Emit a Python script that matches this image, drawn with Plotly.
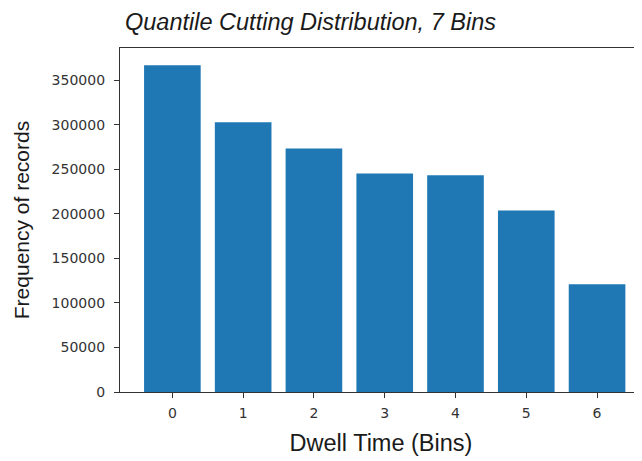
import plotly.graph_objects as go

bins = [0, 1, 2, 3, 4, 5, 6]
tick_labels = ["0", "1", "2", "3", "4", "5", "6"]
frequency = [367000, 303000, 273500, 245500, 243500, 204000, 121000]
y_ticks = [0, 50000, 100000, 150000, 200000, 250000, 300000, 350000]

title_text = "<i>Quantile Cutting Distribution, 7 Bins</i>"
x_title = "Dwell Time (Bins)"
y_title = "Frequency of records"

# page body has an 8px margin, so the figure is 8px smaller than the window
W, H = 634, 453

fig = go.Figure(
    go.Bar(
        x=bins,
        y=frequency,
        width=0.8,
        marker=dict(color="#1f77b4", line=dict(width=0)),
    )
)

fig.update_layout(
    width=W,
    height=H,
    margin=dict(l=112, r=0, t=40, b=69),
    paper_bgcolor="white",
    plot_bgcolor="white",
    showlegend=False,
    title=dict(
        text=title_text,
        font=dict(family="Liberation Sans, Arial", size=23.5, color="#1a1a1a"),
        xref="container",
        yref="container",
        x=117 / W,
        xanchor="left",
        y=1 - 6 / H,
        yanchor="top",
    ),
)

fig.update_xaxes(
    range=[-0.74, 6.635],
    tickmode="array",
    tickvals=bins,
    ticktext=tick_labels,
    ticks="outside",
    ticklen=5,
    tickwidth=1,
    tickcolor="#333",
    showline=True,
    linecolor="#333",
    linewidth=1.3,
    mirror=True,
    showgrid=False,
    zeroline=False,
    tickfont=dict(family="DejaVu Sans", size=14, color="#333"),
    ticklabelstandoff=3,
    title=dict(
        text=x_title,
        font=dict(family="Liberation Sans, Arial", size=23.5, color="#1a1a1a"),
        standoff=14,
    ),
)

fig.update_yaxes(
    range=[0, 386400],
    tickmode="array",
    tickvals=y_ticks,
    ticktext=[str(v) for v in y_ticks],
    ticks="outside",
    ticklen=5,
    tickwidth=1,
    tickcolor="#333",
    showline=True,
    linecolor="#333",
    linewidth=1.3,
    mirror=False,
    showgrid=False,
    zeroline=False,
    tickfont=dict(family="DejaVu Sans", size=14, color="#333"),
    ticklabelstandoff=6,
    title=dict(
        text=y_title,
        font=dict(family="Liberation Sans, Arial", size=21, color="#1a1a1a"),
        standoff=16,
    ),
)

fig.write_html("out.html")
